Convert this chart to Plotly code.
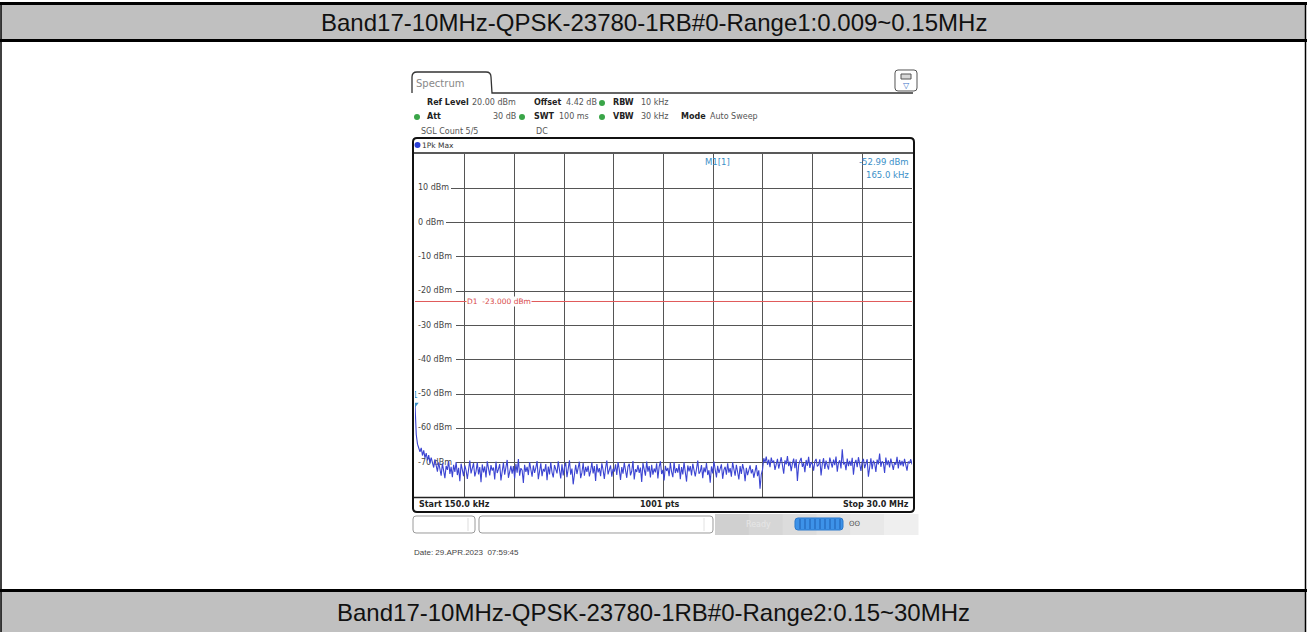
import numpy as np
import plotly.graph_objects as go

W, H = 1307, 632

# ---- data -------------------------------------------------------------
title_top = "Band17-10MHz-QPSK-23780-1RB#0-Range1:0.009~0.15MHz"
title_bottom = "Band17-10MHz-QPSK-23780-1RB#0-Range2:0.15~30MHz"

start_mhz = 0.15
stop_mhz = 30.0
ref_level = 20.0
bottom_level = -80.0
display_line_level = -23.0

marker_freq = [0.165]
marker_level = [-52.99]

y_tick_levels = [10, 0, -10, -20, -30, -40, -50, -60, -70]

# peak-hold trace (dBm), sweep points evenly spaced from start to stop
trace_levels = [
    -53.0, -61.8, -64.6, -65.9, -66.8, -65.7, -67.9, -66.4, -68.6, -67.2,
    -69.3, -67.8, -70.1, -68.5, -69.7, -71.4, -69.0, -70.8, -72.6, -69.9,
    -71.6, -73.8, -70.2, -72.9, -74.5, -70.9, -72.1, -69.5, -73.3, -71.2,
    -74.2, -70.6, -72.7, -69.8, -73.6, -71.5, -75.4, -70.3, -72.4, -73.9,
    -70.8, -72.2, -74.7, -71.0, -69.4, -73.1, -71.8, -70.1, -74.0, -72.5,
    -69.9, -73.4, -71.3, -75.7, -70.5, -72.8, -71.1, -74.3, -69.6, -72.0,
    -73.7, -70.7, -72.3, -71.4, -74.9, -69.7, -73.0, -71.9, -70.4, -75.2,
    -72.1, -70.0, -73.5, -71.7, -69.2, -74.4, -72.6, -70.9, -73.2, -71.0,
    -74.6, -70.3, -72.9, -68.9, -73.8, -71.6, -72.2, -75.9, -70.6, -72.7,
    -71.2, -73.6, -69.8, -72.4, -74.1, -70.8, -73.0, -71.5, -69.5, -74.8,
    -72.3, -70.2, -73.9, -71.8, -72.6, -70.4, -75.1, -71.1, -73.4, -69.9,
    -72.8, -74.3, -70.7, -71.9, -73.1, -69.6, -72.5, -74.6, -70.5, -73.7,
    -71.3, -70.0, -74.2, -72.0, -69.3, -73.5, -71.7, -76.3, -72.2, -70.6,
    -73.3, -71.4, -69.7, -74.5, -72.9, -70.1, -73.8, -71.2, -72.7, -70.9,
    -74.0, -72.4, -69.9, -73.1, -71.0, -75.3, -70.4, -72.8, -71.6, -73.9,
    -70.2, -72.1, -74.7, -71.5, -69.4, -73.4, -72.3, -70.8, -74.1, -71.8,
    -72.6, -70.5, -73.6, -69.8, -72.0, -75.0, -71.3, -73.2, -70.0, -72.9,
    -74.4, -71.1, -70.3, -73.7, -72.5, -69.5, -74.9, -71.9, -72.7, -70.7,
    -73.0, -71.4, -75.6, -70.1, -72.2, -73.8, -69.7, -72.6, -71.0, -74.3,
    -70.6, -73.5, -71.7, -72.8, -70.2, -74.6, -71.2, -69.6, -73.3, -72.1,
    -75.2, -70.9, -72.4, -71.5, -73.9, -70.0, -72.7, -74.2, -69.8, -73.0,
    -71.6, -72.9, -70.4, -74.8, -71.3, -73.4, -69.9, -72.3, -75.5, -70.8,
    -72.5, -71.0, -73.7, -70.3, -72.0, -74.0, -71.8, -69.4, -73.2, -72.6,
    -70.7, -74.5, -71.4, -72.8, -70.1, -73.6, -72.2, -75.8, -71.1, -73.1,
    -69.7, -72.4, -74.3, -70.9, -73.0, -71.7, -70.5, -74.7, -72.1, -71.2,
    -73.5, -70.2, -72.9, -71.6, -74.1, -69.9, -72.7, -73.8, -70.6, -72.3,
    -74.9, -71.0, -73.3, -70.4, -72.0, -75.4, -71.5, -73.6, -72.4, -70.8,
    -73.1, -71.9, -74.4, -72.6, -70.7, -73.9, -72.2, -77.6, -73.4, -72.0,
    -68.7, -69.9, -68.2, -70.6, -69.1, -71.3, -68.5, -70.0, -69.4, -72.1,
    -70.3, -68.9, -71.7, -69.6, -68.4, -70.8, -73.2, -69.3, -70.5, -68.1,
    -71.0, -69.7, -72.5, -70.2, -68.8, -71.6, -69.0, -75.3, -70.7, -69.5,
    -68.6, -71.2, -70.1, -72.8, -69.2, -70.9, -68.3, -71.5, -69.8, -70.4,
    -72.3, -69.6, -68.9, -71.1, -70.6, -69.0, -73.7, -70.3, -68.7, -71.8,
    -69.4, -70.8, -72.0, -68.5, -70.2, -71.4, -69.1, -70.7, -68.2, -72.6,
    -70.0, -69.3, -71.7, -66.1, -70.5, -69.8, -72.2, -68.8, -71.0, -69.5,
    -70.9, -68.6, -73.5, -70.1, -69.2, -71.3, -68.4, -70.6, -72.4, -69.7,
    -68.9, -71.6, -70.3, -69.0, -74.1, -70.8, -68.7, -71.9, -69.4, -70.2,
    -72.7, -69.1, -70.5, -67.3, -71.2, -69.6, -70.0, -73.0, -68.5, -70.7,
    -69.3, -71.4, -68.8, -70.4, -72.1, -69.9, -70.6, -68.3, -71.7, -69.2,
    -70.8, -69.5, -71.1, -68.9, -70.3, -72.3, -69.7, -70.1, -69.0, -70.5,
]

sweep_freqs = np.linspace(start_mhz, stop_mhz, len(trace_levels))

# ---- pixel helpers ----------------------------------------------------
def px(x):
    return x / W


def py(y):
    return 1 - y / H


def rrect_path(x0, y0, x1, y1, r):
    p = lambda x, y: f"{px(x):.6f},{py(y):.6f}"
    return (
        f"M {p(x0 + r, y0)} L {p(x1 - r, y0)} Q {p(x1, y0)} {p(x1, y0 + r)} "
        f"L {p(x1, y1 - r)} Q {p(x1, y1)} {p(x1 - r, y1)} "
        f"L {p(x0 + r, y1)} Q {p(x0, y1)} {p(x0, y1 - r)} "
        f"L {p(x0, y0 + r)} Q {p(x0, y0)} {p(x0 + r, y0)} Z"
    )


shapes = []
annotations = []


def rect(x0, y0, x1, y1, fill=None, line=None, lw=1, layer="above"):
    shapes.append(dict(type="rect", xref="paper", yref="paper",
                       x0=px(x0), x1=px(x1), y0=py(y1), y1=py(y0),
                       fillcolor=fill if fill else "rgba(0,0,0,0)",
                       line=dict(color=line if line else "rgba(0,0,0,0)", width=lw if line else 0),
                       layer=layer))


def hline(x0, x1, y, color="black", lw=1):
    shapes.append(dict(type="line", xref="paper", yref="paper",
                       x0=px(x0), x1=px(x1), y0=py(y), y1=py(y),
                       line=dict(color=color, width=lw)))


def vline(x, y0, y1, color="black", lw=1):
    shapes.append(dict(type="line", xref="paper", yref="paper",
                       x0=px(x), x1=px(x), y0=py(y0), y1=py(y1),
                       line=dict(color=color, width=lw)))


def dot(x, y, r, color):
    shapes.append(dict(type="circle", xref="paper", yref="paper",
                       x0=px(x - r), x1=px(x + r), y0=py(y + r), y1=py(y - r),
                       fillcolor=color, line=dict(width=0)))


def path(d, color="black", lw=1, fill=None):
    shapes.append(dict(type="path", xref="paper", yref="paper", path=d,
                       fillcolor=fill if fill else "rgba(0,0,0,0)",
                       line=dict(color=color, width=lw)))


def text(x, y, s, size=8, color="#444", bold=False, anchor="left",
         family="DejaVu Sans", bg=None):
    annotations.append(dict(
        x=px(x), y=py(y), xref="paper", yref="paper", text=f"<b>{s}</b>" if bold else s,
        showarrow=False, xanchor=anchor, yanchor="middle",
        font=dict(family=family, size=size, color=color),
        bgcolor=bg, borderpad=0))


# ---- page frame with the two gray caption rows --------------------------
rect(1, 5, 1306, 40, fill="#c0c0c0")
rect(1, 591, 1306, 632, fill="#c0c0c0")
hline(0, W, 3.5, lw=3)
hline(0, W, 40.5, lw=3)
hline(0, W, 590.5, lw=3)
vline(1, 3, 632, lw=1.5)
vline(1305.5, 3, 632, lw=1.5)
text(654, 22.5, title_top, size=24, color="#111", family="Liberation Sans", anchor="center")
text(653, 612, title_bottom, size=24, color="#111", family="Liberation Sans", anchor="center")

# ---- analyzer screen header --------------------------------------------
path(f"M {px(412):.6f},{py(93):.6f} L {px(412):.6f},{py(77):.6f} "
     f"Q {px(412):.6f},{py(72):.6f} {px(417):.6f},{py(72):.6f} "
     f"L {px(486):.6f},{py(72):.6f} Q {px(491):.6f},{py(72):.6f} {px(491):.6f},{py(77):.6f} "
     f"L {px(492):.6f},{py(93):.6f} L {px(913):.6f},{py(93):.6f}", color="#333", lw=1.3)
text(415, 83, "Spectrum", size=10, color="#888")
path(rrect_path(895, 70, 917, 91, 3), color="#555", lw=1, fill="white")
rect(901, 74, 911, 79, fill="#d8d8d8", line="#555", lw=1)
text(906, 85, "▽", size=8, color="#3a6fc8", anchor="center")

GREEN = "#3aa548"
LBL = "#222"
VAL = "#555"
VS = 8
text(426, 103, "Ref Level", bold=True, color=LBL)
text(471, 103, "20.00 dBm", color=VAL, size=VS)
text(533, 103, "Offset", bold=True, color=LBL)
text(565, 103, "4.42 dB", color=VAL, size=VS)
dot(602, 103, 3, GREEN)
text(612, 103, "RBW", bold=True, color=LBL)
text(640, 103, "10 kHz", color=VAL, size=VS)

dot(417, 117, 3, GREEN)
text(426, 117, "Att", bold=True, color=LBL)
text(517, 117, "30 dB", color=VAL, size=VS, anchor="right")
dot(522, 117, 3, GREEN)
text(533, 117, "SWT", bold=True, color=LBL)
text(590, 117, "100 ms", color=VAL, size=VS, anchor="right")
dot(602, 117, 3, GREEN)
text(612, 117, "VBW", bold=True, color=LBL)
text(640, 117, "30 kHz", color=VAL, size=VS)
text(680, 117, "Mode", bold=True, color=LBL)
text(709, 117, "Auto Sweep", color=VAL, size=VS)

text(420, 131, "SGL Count 5/5", color=VAL, size=VS)
text(535, 131, "DC", color=VAL, size=VS)

# ---- measurement window frame ------------------------------------------
path(rrect_path(413, 138, 914, 512, 4), color="#111", lw=2)
hline(414, 913, 153, color="#222", lw=1.5)
hline(414, 913, 497.5, color="#222", lw=1.5)
dot(417.5, 145, 3, "#2a3fd6")
text(421, 145, "1Pk Max", size=7.5, color="#333")

text(418, 504, "Start 150.0 kHz", bold=True, color="#222")
text(660, 504, "1001 pts", bold=True, color="#222", anchor="center")
text(910, 504, "Stop 30.0 MHz", bold=True, color="#222", anchor="right")

# marker readout box masks the grid in the upper right corner
rect(665, 154.5, 912, 181, fill="white", layer="between")
text(704, 162, "M1[1]", size=8.5, color="#3a8fc8")
text(910, 162, "-52.99 dBm", size=8.5, color="#3a8fc8", anchor="right")
text(910, 175, "165.0 kHz", size=8.5, color="#3a8fc8", anchor="right")

# ---- status bar and date --------------------------------------------------
path(rrect_path(413, 516, 475, 533, 3), color="#9a9a9a", lw=1)
vline(468, 518, 531, color="#dddddd")
path(rrect_path(479, 516, 713, 533, 3), color="#9a9a9a", lw=1)
vline(704, 518, 531, color="#e2e2e2")
grays = ["#d0d0d0", "#d6d6d6", "#dcdcdc", "#e2e2e2", "#e8e8e8", "#efefef"]
seg = (918 - 715) / len(grays)
for i, g in enumerate(grays):
    rect(715 + i * seg, 514, 715 + (i + 1) * seg + 0.5, 535, fill=g)
text(745, 524, "Ready", size=8, color="#e6e6e6")
path(rrect_path(795, 518, 843, 530, 3), color="#2a78cc", lw=1, fill="#3d92e8")
for xx in range(800, 843, 5):
    vline(xx, 519, 529, color="#1f5fb0", lw=1)
text(855, 524, "ʘʘ", size=7, color="#555", anchor="center")

text(413, 552, "Date: 29.APR.2023  07:59:45", size=8, color="#444", family="Liberation Sans")

# ---- plot traces ------------------------------------------------------------
x_per_px = (stop_mhz - start_mhz) / 497.0
label_x = start_mhz + 3 * x_per_px
labels = [f"{v} dBm" for v in y_tick_levels]
for v, s in zip(y_tick_levels, labels):
    w = len(s) * 5.0 + 3
    shapes.append(dict(type="rect", xref="x", yref="y",
                       x0=start_mhz, x1=label_x + w * x_per_px,
                       y0=v - 1.6, y1=v + 1.6, fillcolor="white",
                       line=dict(width=0), layer="between"))

fig = go.Figure()
fig.add_trace(go.Scatter(
    x=[label_x] * len(y_tick_levels), y=y_tick_levels, text=labels,
    mode="text", textposition="middle right",
    textfont=dict(family="DejaVu Sans", size=8, color="#444"),
    hoverinfo="skip"))

fig.add_trace(go.Scatter(
    x=[start_mhz, stop_mhz], y=[display_line_level] * 2, mode="lines",
    line=dict(color="#e05a5a", width=1), hoverinfo="skip"))

fig.add_trace(go.Scatter(
    x=sweep_freqs, y=trace_levels, mode="lines",
    line=dict(color="#3b44d2", width=1.1)))

fig.add_trace(go.Scatter(
    x=marker_freq, y=marker_level, mode="markers+text", text=["1"],
    textposition="top center",
    textfont=dict(family="DejaVu Sans", size=8, color="#3a8fc8"),
    marker=dict(symbol="triangle-down", size=6, color="#3a8fc8")))

annotations.append(dict(
    x=start_mhz + 3.05, y=display_line_level, xref="x", yref="y",
    text="D1  -23.000 dBm", showarrow=False, xanchor="left", yanchor="middle",
    font=dict(family="DejaVu Sans", size=7.5, color="#d84a4a"), bgcolor="white", borderpad=0))

fig.update_layout(
    width=W, height=H, margin=dict(l=0, r=0, t=0, b=0),
    paper_bgcolor="white", plot_bgcolor="white", showlegend=False,
    shapes=shapes, annotations=annotations,
    xaxis=dict(domain=[px(415), px(912)], range=[start_mhz, stop_mhz],
               tick0=start_mhz, dtick=(stop_mhz - start_mhz) / 10,
               showgrid=True, gridcolor="#555", gridwidth=1,
               showticklabels=False, zeroline=False, showline=False, ticks=""),
    yaxis=dict(domain=[py(497), py(154)], range=[bottom_level, ref_level],
               dtick=10, showgrid=True, gridcolor="#555", gridwidth=1,
               showticklabels=False, zeroline=False, showline=False, ticks=""),
)

fig.write_html("out.html")
